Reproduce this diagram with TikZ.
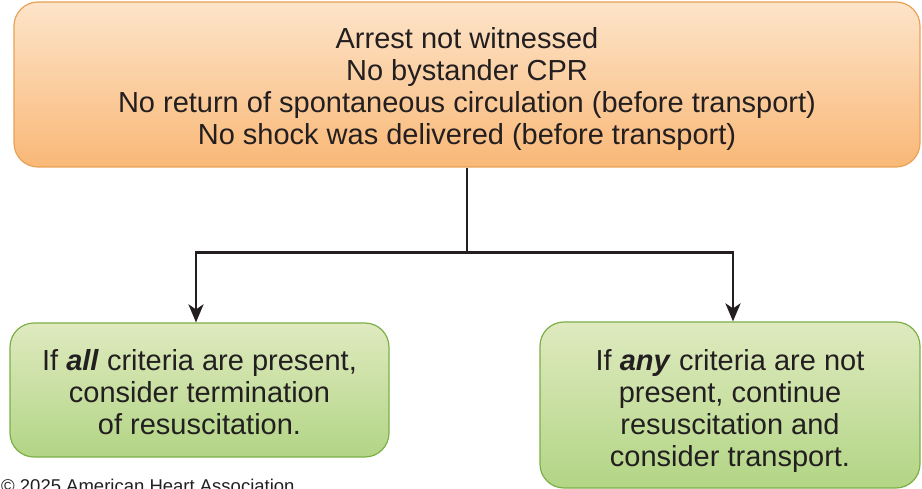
\documentclass[tikz,border=0pt]{standalone}
\usepackage{fontspec}
\setmainfont{Liberation Sans}
\usetikzlibrary{arrows.meta,calc}
\definecolor{orTop}{HTML}{FDE4C9}
\definecolor{orBot}{HTML}{F9B877}
\definecolor{orLine}{HTML}{E9A256}
\definecolor{grTop}{HTML}{DFEABF}
\definecolor{grBot}{HTML}{B2D585}
\definecolor{grLine}{HTML}{7DAF48}
\definecolor{txt}{HTML}{231F20}
\newcommand{\lift}[1]{\rule{0pt}{#1}}
\tikzset{
  box/.style={draw, line width=1.2pt, rounded corners=24pt, align=center, text=txt,
    font=\fontsize{29}{32}\selectfont, inner sep=0pt, shading angle=0},
  orbox/.style={box, draw=orLine, top color=orTop, bottom color=orBot},
  grbox/.style={box, draw=grLine, top color=grTop, bottom color=grBot},
  conn/.style={draw=txt, line width=2.6pt},
  arr/.style={conn, -{Stealth[length=18pt, width=15pt, inset=5pt]}}
}
\begin{document}
\begin{tikzpicture}[x=1pt, y=-1pt]
\useasboundingbox (0,0) rectangle (922,489);
\node[orbox, minimum width=906pt, minimum height=165pt] (top) at (467,84.5)
  {\lift{31pt}Arrest not witnessed\\No bystander CPR\\No return of spontaneous circulation (before transport)\\No shock was delivered (before transport)};
\node[grbox, minimum width=379pt, minimum height=134pt] (left) at (199.5,390)
  {\lift{25pt}If \textbf{\textit{all}} criteria are present,\\consider termination\\of resuscitation.};
\node[grbox, minimum width=380pt, minimum height=166pt] (right) at (730,405)
  {\lift{33pt}If \textbf{\textit{any}} criteria are not\\present, continue\\resuscitation and\\consider transport.};
\coordinate (j) at ($(top.south)+(0,85)$);
\coordinate (lt) at ([xshift=-3.5pt]left.north);
\coordinate (rt) at ([xshift=3pt]right.north);
\draw[conn] (top.south) -- (j);
\draw[arr] (j) -| (lt);
\draw[arr] (j) -| (rt);
\node[anchor=base west, inner sep=0pt, font=\fontsize{18.5}{20}\selectfont, text=txt] (copy) at (1,492.5) {\textcopyright{} 2025 American Heart Association};
\end{tikzpicture}
\end{document}
